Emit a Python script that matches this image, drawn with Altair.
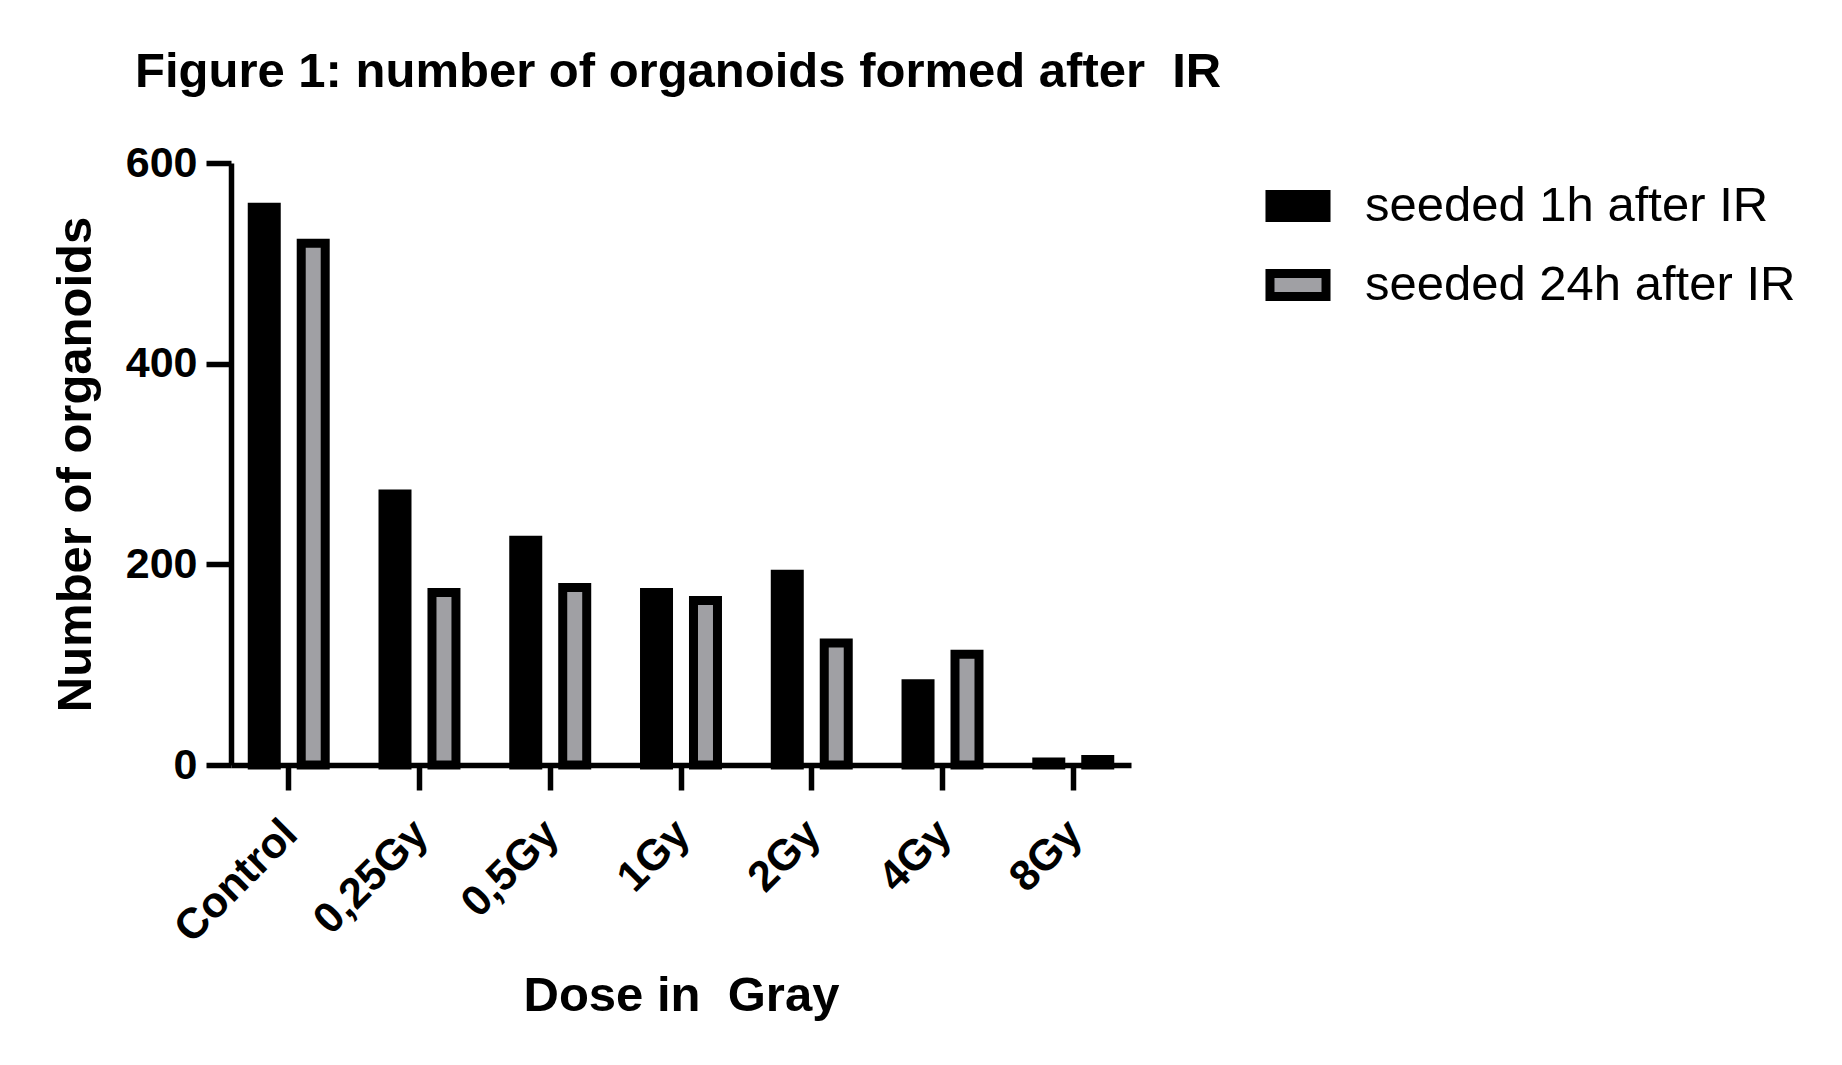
import altair as alt
import pandas as pd

doses = ["Control", "0,25Gy", "0,5Gy", "1Gy", "2Gy", "4Gy", "8Gy"]
series = ["seeded 1h after IR", "seeded 24h after IR"]
seeded_1h = [556, 270, 224, 172, 190, 81, 3]
seeded_24h = [520, 172, 177, 164, 121.5, 110.5, 5.5]
y_ticks = [0, 200, 400, 600]

rows = []
for d, a, b in zip(doses, seeded_1h, seeded_24h):
    rows.append({"dose": d, "series": series[0], "value": a})
    rows.append({"dose": d, "series": series[1], "value": b})
df = pd.DataFrame(rows)

FONT = "Liberation Sans"
BLACK = "#000000"
GRAY = "#a0a0a4"

rect_path = "M-0.862,-0.354H0.862V0.354H-0.862Z"

chart = alt.Chart(df).mark_bar(stroke=BLACK, strokeWidth=9).encode(
    x=alt.X(
        "dose:N",
        sort=doses,
        scale=alt.Scale(paddingInner=0.251, paddingOuter=0.067),
        axis=alt.Axis(
            title="Dose in\u00a0 Gray",
            titleFont=FONT, titleFontSize=49, titleFontWeight="bold", titleColor=BLACK,
            titleX=450, titleY=245, titleBaseline="alphabetic", titleAlign="center",
            labelFont=FONT, labelFontSize=43, labelFontWeight="bold", labelColor=BLACK,
            labelAngle=-45, labelAlign="right", labelBaseline="top", labelPadding=22,
            labelOffset=-13, labelLimit=0,
            domainColor=BLACK, domainWidth=5.5, tickColor=BLACK, tickWidth=5.5, tickSize=25,
            grid=False, zindex=1,
        ),
    ),
    xOffset=alt.XOffset(
        "series:N",
        sort=series,
        scale=alt.Scale(paddingInner=0.51, paddingOuter=0.255),
    ),
    y=alt.Y(
        "value:Q",
        scale=alt.Scale(domain=[0, 600], nice=False),
        axis=alt.Axis(
            values=y_ticks,
            title="Number of organoids",
            titleFont=FONT, titleFontSize=49, titleFontWeight="bold", titleColor=BLACK,
            titleX=-141, titleY=301, titleAngle=270, titleBaseline="alphabetic", titleAlign="center",
            labelFont=FONT, labelFontSize=43, labelFontWeight="bold", labelColor=BLACK,
            labelPadding=9,
            domainColor=BLACK, domainWidth=5.5, tickColor=BLACK, tickWidth=5.5, tickSize=25,
            grid=False, zindex=1,
        ),
    ),
    fill=alt.Fill(
        "series:N",
        sort=series,
        scale=alt.Scale(domain=series, range=[BLACK, GRAY]),
        legend=alt.Legend(
            title=None,
            orient="none", legendX=1030, legendY=6,
            symbolType=rect_path, symbolSize=4225,
            symbolStrokeColor=BLACK, symbolStrokeWidth=9, symbolOpacity=1,
            labelFont=FONT, labelFontSize=49, labelColor=BLACK, labelLimit=0,
            labelOffset=30, rowPadding=12, padding=0,
        ),
    ),
).properties(
    width=900,
    height=602,
    autosize="none",
    padding={"left": 223, "top": 155, "right": 690, "bottom": 280},
    title=alt.TitleParams(
        text="Figure 1: number of organoids formed after\u00a0 IR",
        font=FONT, fontSize=49, fontWeight="bold", color=BLACK,
        anchor="start", frame="group", dx=-96, offset=45,
    ),
).configure(background="white").configure_view(stroke=None, strokeWidth=0)

chart.save("out.html", embed_options={"renderer": "svg", "actions": False})
